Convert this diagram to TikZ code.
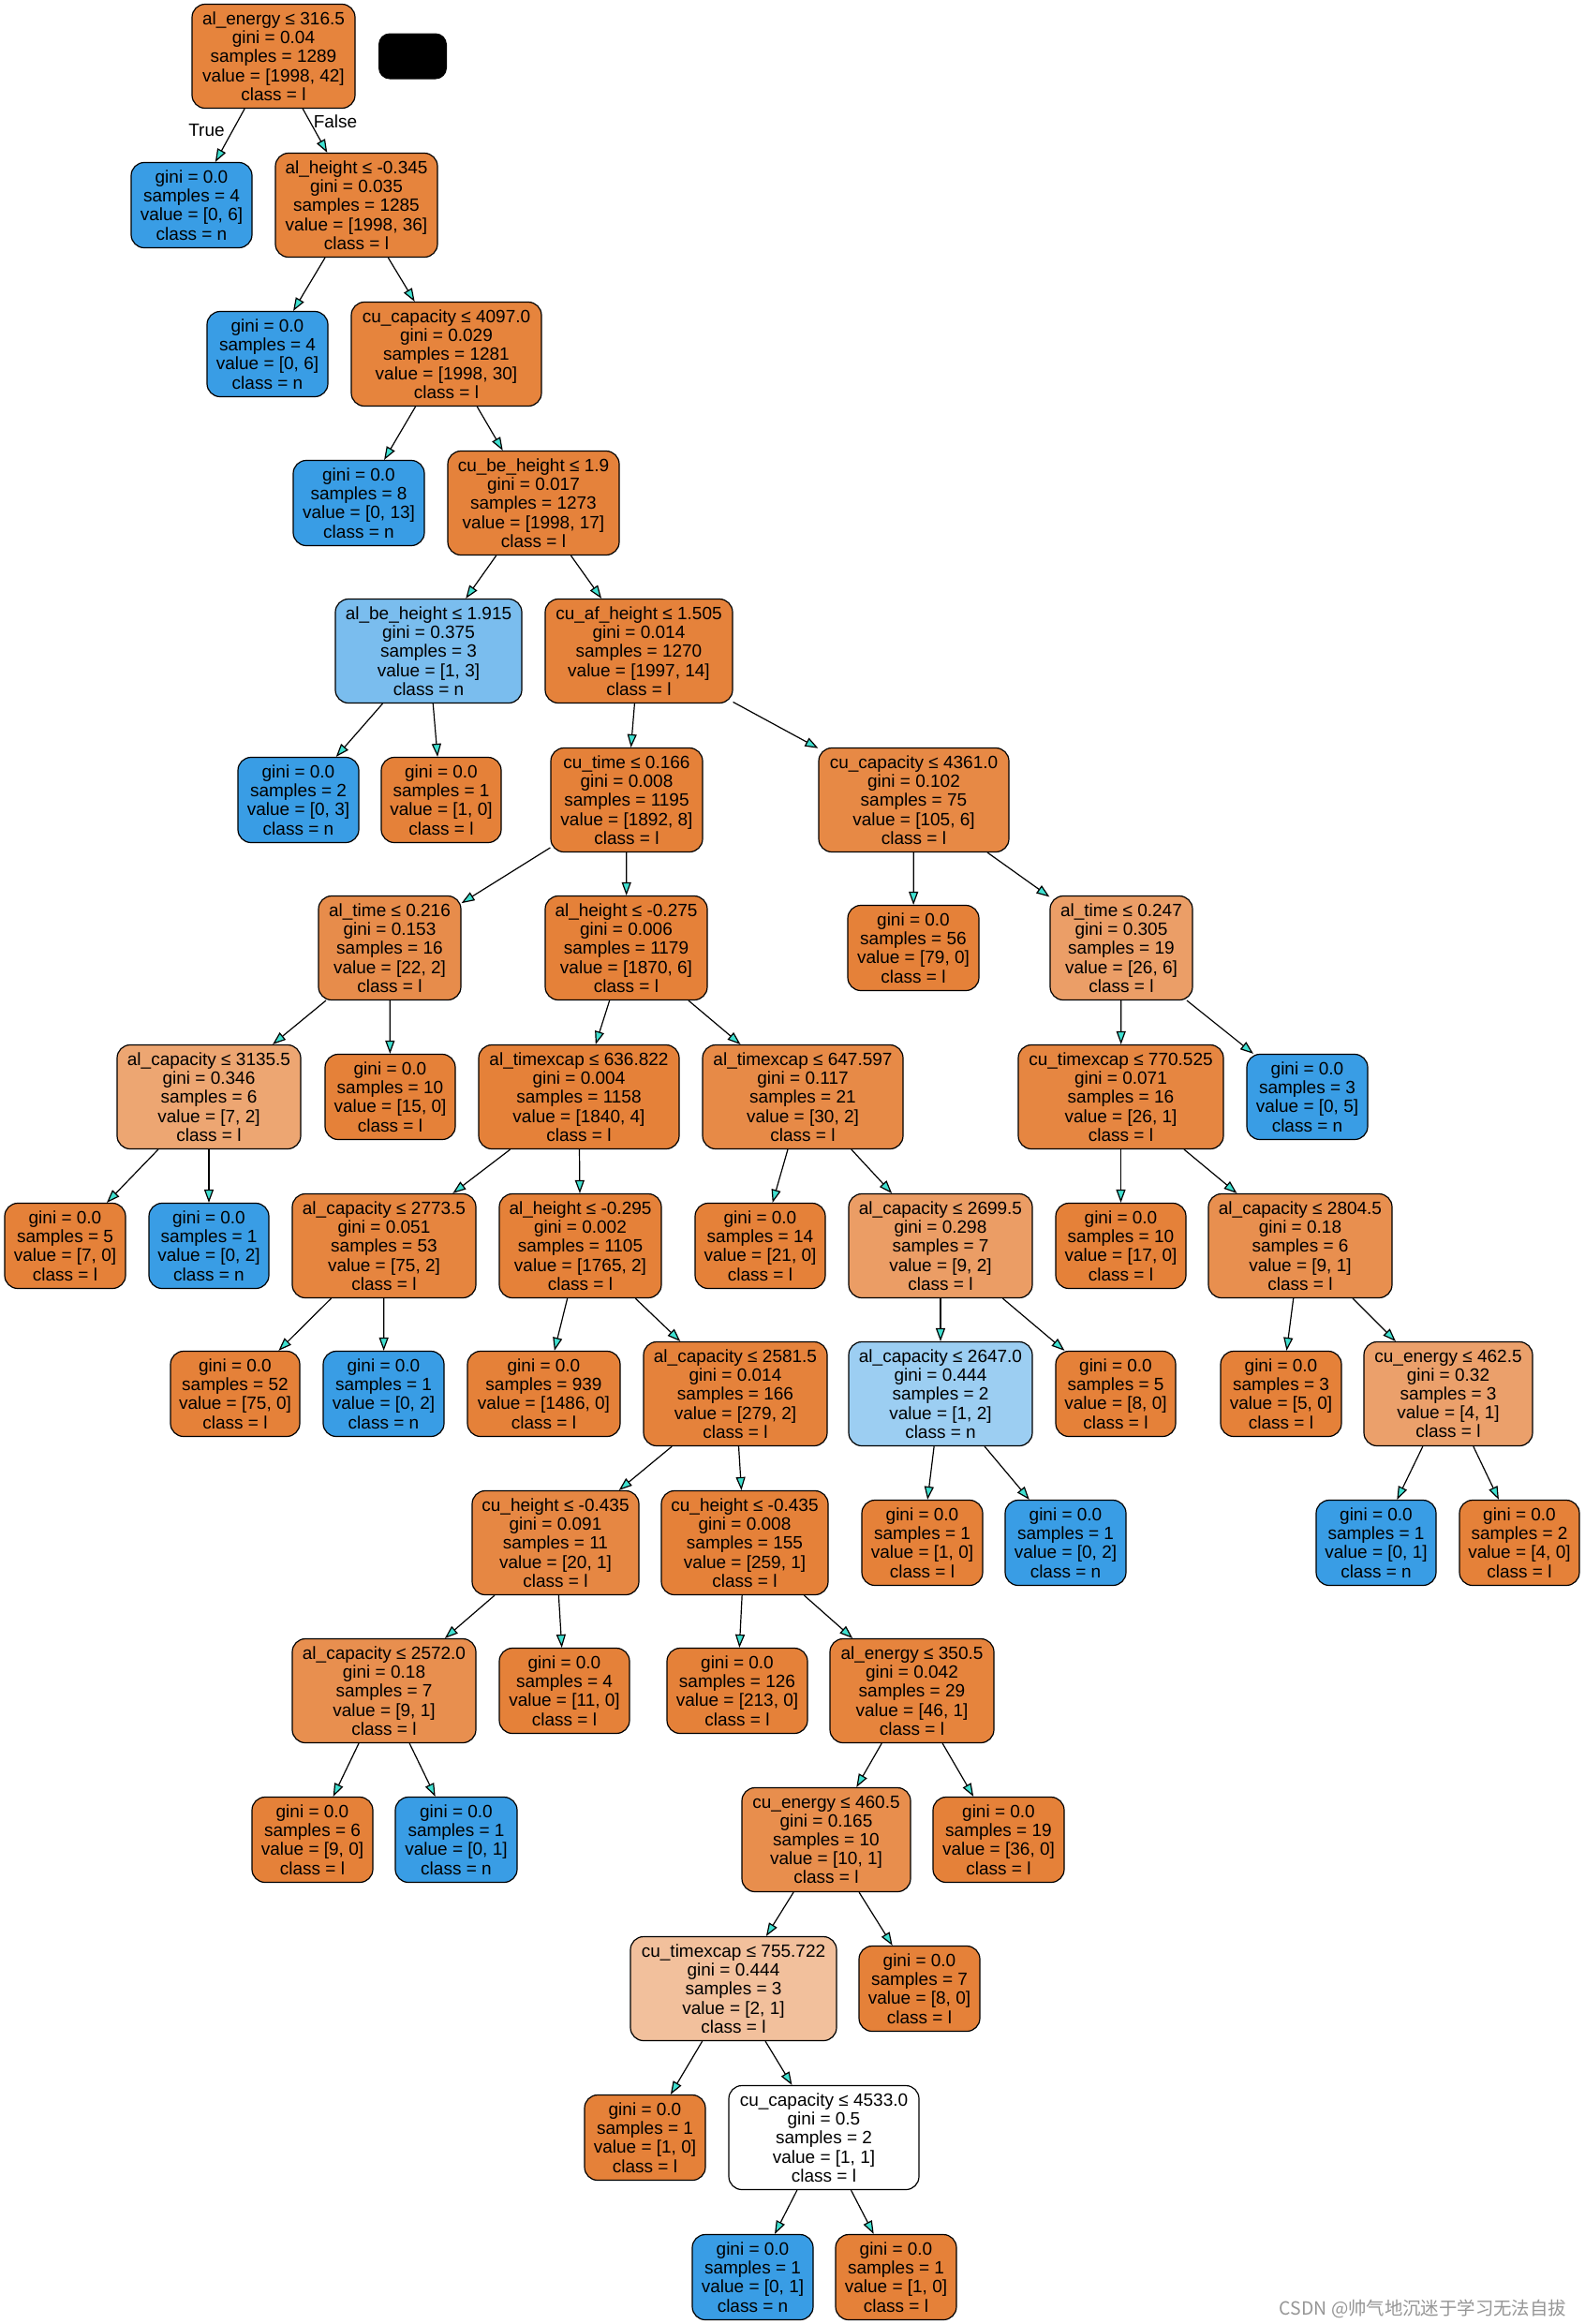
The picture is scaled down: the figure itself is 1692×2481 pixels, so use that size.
\documentclass[tikz,border=0pt]{standalone}
\usepackage{fontspec}
\setmainfont{Liberation Sans}
\newfontfamily\cjkfont{Noto Sans CJK SC}
\usetikzlibrary{arrows.meta}
\definecolor{cOr}{HTML}{E58139}
\definecolor{cBl}{HTML}{399DE5}
\definecolor{tq}{HTML}{40E0D0}
\definecolor{wmark}{RGB}{150,150,150}
\begin{document}
\begin{tikzpicture}[x=0.5pt,y=-0.5pt,
  box/.style={draw=black, line width=0.6pt, rounded corners=7pt, align=center, inner sep=0pt,
    font=\fontsize{9.5}{10.1}\selectfont},
  inode/.style={box, minimum height=55.5pt},
  lnode/.style={box, minimum height=45.5pt},
  wd/.style={minimum width=#1*0.5pt},
  edge/.style={line width=0.6pt, -{Triangle[length=7pt,width=5pt,fill=tq]}},
  elab/.style={font=\fontsize{9.5}{10.1}\selectfont, inner sep=0pt}]
\fill[white] (0,0) rectangle (1692,2481);
\useasboundingbox (0,0) rectangle (1692,2481);

% level 0
\node[inode, wd=174, fill=cOr!98!white] (n0) at (292,60) {al\_energy ≤ 316.5\\gini = 0.04\\samples = 1289\\value = [1998, 42]\\class = l};
\node[fill=black, rounded corners=6pt, minimum width=36.5pt, minimum height=24.5pt, inner sep=0pt] (blk) at (440.5,60) {};
% level 1
\node[lnode, wd=129, fill=cBl] (n1) at (204.5,219) {gini = 0.0\\samples = 4\\value = [0, 6]\\class = n};
\node[inode, wd=173, fill=cOr!98!white] (n2) at (380.5,219) {al\_height ≤ -0.345\\gini = 0.035\\samples = 1285\\value = [1998, 36]\\class = l};
% level 2
\node[lnode, wd=129, fill=cBl] (n3) at (285.5,378) {gini = 0.0\\samples = 4\\value = [0, 6]\\class = n};
\node[inode, wd=203, fill=cOr!98!white] (n4) at (476.5,378) {cu\_capacity ≤ 4097.0\\gini = 0.029\\samples = 1281\\value = [1998, 30]\\class = l};
% level 3
\node[lnode, wd=140, fill=cBl] (n5) at (383,537) {gini = 0.0\\samples = 8\\value = [0, 13]\\class = n};
\node[inode, wd=183, fill=cOr!99!white] (n6) at (569.5,537) {cu\_be\_height ≤ 1.9\\gini = 0.017\\samples = 1273\\value = [1998, 17]\\class = l};
% level 4
\node[inode, wd=199, fill=cBl!67!white] (n7) at (457.5,695) {al\_be\_height ≤ 1.915\\gini = 0.375\\samples = 3\\value = [1, 3]\\class = n};
\node[inode, wd=200, fill=cOr!99!white] (n8) at (682,695) {cu\_af\_height ≤ 1.505\\gini = 0.014\\samples = 1270\\value = [1997, 14]\\class = l};
% level 5
\node[lnode, wd=129, fill=cBl] (n9) at (318.5,854) {gini = 0.0\\samples = 2\\value = [0, 3]\\class = n};
\node[lnode, wd=128, fill=cOr] (n10) at (471,854) {gini = 0.0\\samples = 1\\value = [1, 0]\\class = l};
\node[inode, wd=162, fill=cOr] (n11) at (669,854) {cu\_time ≤ 0.166\\gini = 0.008\\samples = 1195\\value = [1892, 8]\\class = l};
\node[inode, wd=203, fill=cOr!94!white] (n12) at (975.5,854) {cu\_capacity ≤ 4361.0\\gini = 0.102\\samples = 75\\value = [105, 6]\\class = l};
% level 6
\node[inode, wd=152, fill=cOr!91!white] (n13) at (416,1012) {al\_time ≤ 0.216\\gini = 0.153\\samples = 16\\value = [22, 2]\\class = l};
\node[inode, wd=173, fill=cOr] (n14) at (668.5,1012) {al\_height ≤ -0.275\\gini = 0.006\\samples = 1179\\value = [1870, 6]\\class = l};
\node[lnode, wd=140, fill=cOr] (n15) at (975,1012) {gini = 0.0\\samples = 56\\value = [79, 0]\\class = l};
\node[inode, wd=152, fill=cOr!77!white] (n16) at (1197,1012) {al\_time ≤ 0.247\\gini = 0.305\\samples = 19\\value = [26, 6]\\class = l};
% level 7
\node[inode, wd=196, fill=cOr!71!white] (n17) at (223,1171) {al\_capacity ≤ 3135.5\\gini = 0.346\\samples = 6\\value = [7, 2]\\class = l};
\node[lnode, wd=139, fill=cOr] (n18) at (416.5,1171) {gini = 0.0\\samples = 10\\value = [15, 0]\\class = l};
\node[inode, wd=214, fill=cOr] (n19) at (618,1171) {al\_timexcap ≤ 636.822\\gini = 0.004\\samples = 1158\\value = [1840, 4]\\class = l};
\node[inode, wd=214, fill=cOr!93!white] (n20) at (857,1171) {al\_timexcap ≤ 647.597\\gini = 0.117\\samples = 21\\value = [30, 2]\\class = l};
\node[inode, wd=219, fill=cOr!96!white] (n21) at (1196.5,1171) {cu\_timexcap ≤ 770.525\\gini = 0.071\\samples = 16\\value = [26, 1]\\class = l};
\node[lnode, wd=129, fill=cBl] (n22) at (1395.5,1171) {gini = 0.0\\samples = 3\\value = [0, 5]\\class = n};
% level 8
\node[lnode, wd=129, fill=cOr] (n23) at (69.5,1330) {gini = 0.0\\samples = 5\\value = [7, 0]\\class = l};
\node[lnode, wd=128, fill=cBl] (n24) at (223,1330) {gini = 0.0\\samples = 1\\value = [0, 2]\\class = n};
\node[inode, wd=196, fill=cOr!97!white] (n25) at (410,1330) {al\_capacity ≤ 2773.5\\gini = 0.051\\samples = 53\\value = [75, 2]\\class = l};
\node[inode, wd=173, fill=cOr] (n26) at (619.5,1330) {al\_height ≤ -0.295\\gini = 0.002\\samples = 1105\\value = [1765, 2]\\class = l};
\node[lnode, wd=139, fill=cOr] (n27) at (811.5,1330) {gini = 0.0\\samples = 14\\value = [21, 0]\\class = l};
\node[inode, wd=196, fill=cOr!78!white] (n28) at (1004,1330) {al\_capacity ≤ 2699.5\\gini = 0.298\\samples = 7\\value = [9, 2]\\class = l};
\node[lnode, wd=139, fill=cOr] (n29) at (1196.5,1330) {gini = 0.0\\samples = 10\\value = [17, 0]\\class = l};
\node[inode, wd=196, fill=cOr!89!white] (n30) at (1388,1330) {al\_capacity ≤ 2804.5\\gini = 0.18\\samples = 6\\value = [9, 1]\\class = l};
% level 9
\node[lnode, wd=138, fill=cOr] (n31) at (251,1488) {gini = 0.0\\samples = 52\\value = [75, 0]\\class = l};
\node[lnode, wd=129, fill=cBl] (n32) at (409.5,1488) {gini = 0.0\\samples = 1\\value = [0, 2]\\class = n};
\node[lnode, wd=163, fill=cOr] (n33) at (580.5,1488) {gini = 0.0\\samples = 939\\value = [1486, 0]\\class = l};
\node[inode, wd=196, fill=cOr!99!white] (n34) at (785,1488) {al\_capacity ≤ 2581.5\\gini = 0.014\\samples = 166\\value = [279, 2]\\class = l};
\node[inode, wd=196, fill=cBl!50!white] (n35) at (1004,1488) {al\_capacity ≤ 2647.0\\gini = 0.444\\samples = 2\\value = [1, 2]\\class = n};
\node[lnode, wd=128, fill=cOr] (n36) at (1191,1488) {gini = 0.0\\samples = 5\\value = [8, 0]\\class = l};
\node[lnode, wd=129, fill=cOr] (n37) at (1367.5,1488) {gini = 0.0\\samples = 3\\value = [5, 0]\\class = l};
\node[inode, wd=180, fill=cOr!75!white] (n38) at (1546,1488) {cu\_energy ≤ 462.5\\gini = 0.32\\samples = 3\\value = [4, 1]\\class = l};
% level 10
\node[inode, wd=178, fill=cOr!95!white] (n39) at (593,1647) {cu\_height ≤ -0.435\\gini = 0.091\\samples = 11\\value = [20, 1]\\class = l};
\node[inode, wd=178, fill=cOr] (n40) at (795,1647) {cu\_height ≤ -0.435\\gini = 0.008\\samples = 155\\value = [259, 1]\\class = l};
\node[lnode, wd=129, fill=cOr] (n41) at (984.5,1647) {gini = 0.0\\samples = 1\\value = [1, 0]\\class = l};
\node[lnode, wd=129, fill=cBl] (n42) at (1137.5,1647) {gini = 0.0\\samples = 1\\value = [0, 2]\\class = n};
\node[lnode, wd=128, fill=cBl] (n43) at (1469,1647) {gini = 0.0\\samples = 1\\value = [0, 1]\\class = n};
\node[lnode, wd=128, fill=cOr] (n44) at (1622,1647) {gini = 0.0\\samples = 2\\value = [4, 0]\\class = l};
% level 11
\node[inode, wd=196, fill=cOr!89!white] (n45) at (410,1805) {al\_capacity ≤ 2572.0\\gini = 0.18\\samples = 7\\value = [9, 1]\\class = l};
\node[lnode, wd=139, fill=cOr] (n46) at (602.5,1805) {gini = 0.0\\samples = 4\\value = [11, 0]\\class = l};
\node[lnode, wd=150, fill=cOr] (n47) at (787,1805) {gini = 0.0\\samples = 126\\value = [213, 0]\\class = l};
\node[inode, wd=175, fill=cOr!98!white] (n48) at (973.5,1805) {al\_energy ≤ 350.5\\gini = 0.042\\samples = 29\\value = [46, 1]\\class = l};
% level 12
\node[lnode, wd=129, fill=cOr] (n49) at (333.5,1964) {gini = 0.0\\samples = 6\\value = [9, 0]\\class = l};
\node[lnode, wd=130, fill=cBl] (n50) at (487,1964) {gini = 0.0\\samples = 1\\value = [0, 1]\\class = n};
\node[inode, wd=180, fill=cOr!90!white] (n51) at (882,1964) {cu\_energy ≤ 460.5\\gini = 0.165\\samples = 10\\value = [10, 1]\\class = l};
\node[lnode, wd=140, fill=cOr] (n52) at (1066,1964) {gini = 0.0\\samples = 19\\value = [36, 0]\\class = l};
% level 13
\node[inode, wd=220, fill=cOr!50!white] (n53) at (783,2123) {cu\_timexcap ≤ 755.722\\gini = 0.444\\samples = 3\\value = [2, 1]\\class = l};
\node[lnode, wd=129, fill=cOr] (n54) at (981.5,2123) {gini = 0.0\\samples = 7\\value = [8, 0]\\class = l};
% level 14
\node[lnode, wd=129, fill=cOr] (n55) at (688.5,2282) {gini = 0.0\\samples = 1\\value = [1, 0]\\class = l};
\node[inode, wd=203, fill=white] (n56) at (879.5,2282) {cu\_capacity ≤ 4533.0\\gini = 0.5\\samples = 2\\value = [1, 1]\\class = l};
% level 15
\node[lnode, wd=129, fill=cBl] (n57) at (803.5,2431) {gini = 0.0\\samples = 1\\value = [0, 1]\\class = n};
\node[lnode, wd=129, fill=cOr] (n58) at (956.5,2431) {gini = 0.0\\samples = 1\\value = [1, 0]\\class = l};

% edges
\foreach \p/\c in {n0/n1,n0/n2,n2/n3,n2/n4,n4/n5,n4/n6,n6/n7,n6/n8,n7/n9,n7/n10,
  n8/n11,n8/n12,n11/n13,n11/n14,n12/n15,n12/n16,n13/n17,n13/n18,n14/n19,n14/n20,
  n16/n21,n16/n22,n17/n23,n17/n24,n19/n25,n19/n26,n20/n27,n20/n28,n21/n29,n21/n30,
  n25/n31,n25/n32,n26/n33,n26/n34,n28/n35,n28/n36,n30/n37,n30/n38,n34/n39,n34/n40,
  n35/n41,n35/n42,n38/n43,n38/n44,n39/n45,n39/n46,n40/n47,n40/n48,n45/n49,n45/n50,
  n48/n51,n48/n52,n51/n53,n51/n54,n53/n55,n53/n56,n56/n57,n56/n58}
  \draw[edge] (\p) -- (\c);

\node[elab] (tlab) at (220.5,139) {True};
\node[elab] (flab) at (358,130) {False};

\node[text=wmark, inner sep=0pt, font=\cjkfont\fontsize{9.7}{10}\selectfont] (wm) at (1519,2465) {CSDN @帅气地沉迷于学习无法自拔};
\end{tikzpicture}
\end{document}
